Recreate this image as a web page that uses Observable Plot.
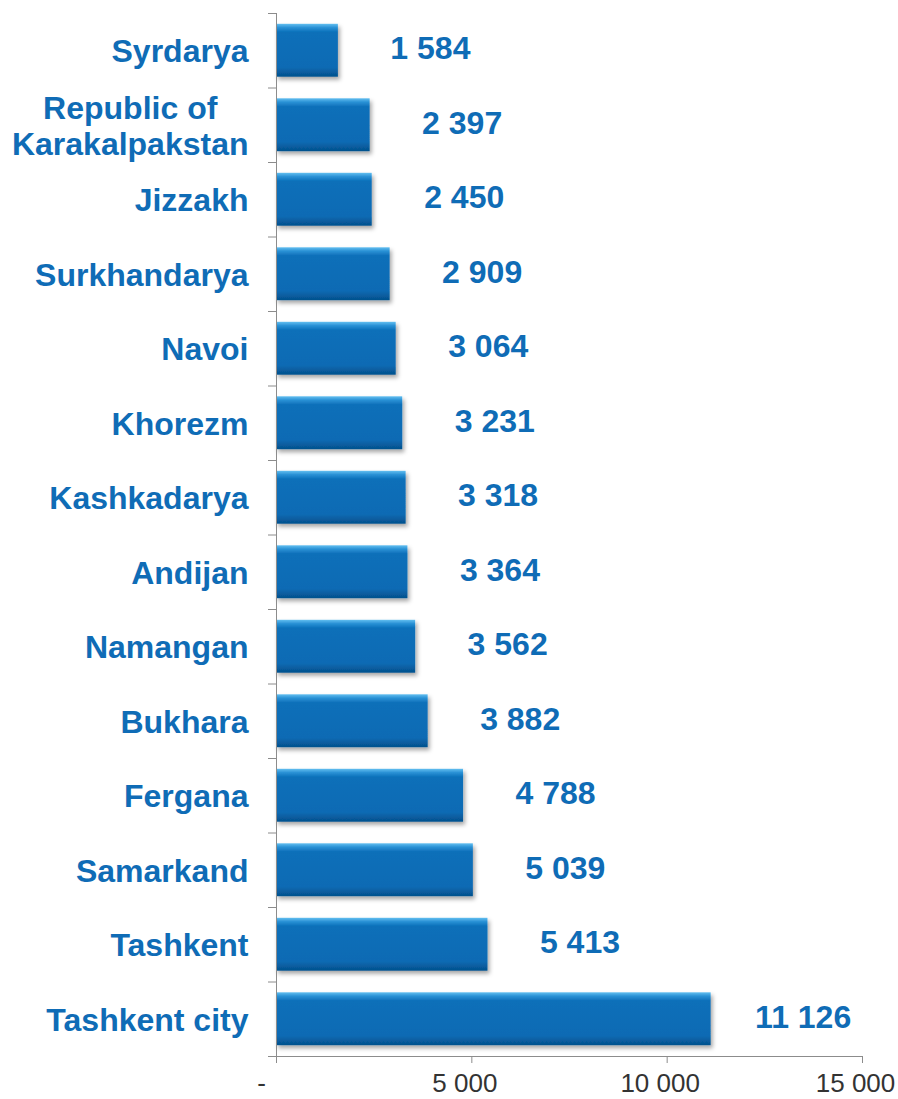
<!DOCTYPE html>
<html>
<head>
<meta charset="utf-8">
<script src="https://cdn.jsdelivr.net/npm/d3@7"></script>
<script src="https://cdn.jsdelivr.net/npm/@observablehq/plot@0.6"></script>
<style>
  html, body { margin: 0; padding: 0; background: #ffffff; }
</style>
</head>
<body>
<script>
const categories = ["Syrdarya", "Republic of\nKarakalpakstan", "Jizzakh", "Surkhandarya", "Navoi", "Khorezm", "Kashkadarya", "Andijan", "Namangan", "Bukhara", "Fergana", "Samarkand", "Tashkent", "Tashkent city"];
const values = [1584, 2397, 2450, 2909, 3064, 3231, 3318, 3364, 3562, 3882, 4788, 5039, 5413, 11126];
const xTicks = [0, 5000, 10000, 15000];

const data = categories.map((c, i) => ({region: c, value: values[i]}));

const W = 898, H = 1099, mt = 13, mb = 43, ml = 276, mr = 36;
const step = (H - mt - mb) / categories.length;
const blue = "#0f6cb6";
const gray = "#8c8c8c";
const fmt = v => d3.format(",")(v).replace(/,/g, " ");

const chart = Plot.plot({
  width: W, height: H,
  marginLeft: ml, marginRight: mr, marginTop: mt, marginBottom: mb,
  style: {fontFamily: "'Liberation Sans', Arial, sans-serif", background: "white", overflow: "visible"},
  x: {domain: [0, 15000]},
  y: {domain: categories, paddingInner: 0.29, paddingOuter: 0.145, round: false},
  marks: [
    Plot.barX(data, {x: "value", y: "region", fill: "url(#barGrad)"}),
    Plot.text(data, {x: "value", y: "region", text: d => fmt(d.value), dx: 92, dy: -2, textAnchor: "middle",
      fontSize: 32, fontWeight: "bold", fill: blue}),
    Plot.axisY({tickSize: 8, text: null, stroke: gray, dy: -step / 2, label: null}),
    Plot.axisY({tickSize: 0, tickPadding: 28, fontSize: 32, fontWeight: "bold", color: blue, lineHeight: 1.12, label: null}),
    Plot.axisX({ticks: xTicks, tickSize: 7, tickPadding: 10, fontSize: 26, stroke: gray, fill: "#333333",
      tickFormat: d => d === 0 ? "-" : fmt(d), label: null}),
    Plot.frame({anchor: "left", stroke: gray}),
    Plot.frame({anchor: "bottom", stroke: gray, insetLeft: -8})
  ]
});

document.body.append(chart);

const svg = d3.select(chart);
const defs = svg.insert("defs", ":first-child");
const g = defs.append("linearGradient").attr("id", "barGrad")
  .attr("x1", 0).attr("y1", 0).attr("x2", 0).attr("y2", 1);
[["0%", "#63bff0"], ["7%", "#2b92d6"], ["16%", "#0b6fb9"], ["82%", "#0a6bb4"], ["100%", "#05508c"]]
  .forEach(([o, c]) => g.append("stop").attr("offset", o).attr("stop-color", c));
const f = defs.append("filter").attr("id", "shadow").attr("x", "-10%").attr("y", "-20%").attr("width", "130%").attr("height", "160%");
f.append("feDropShadow").attr("dx", 2).attr("dy", 3).attr("stdDeviation", 2).attr("flood-color", "#000").attr("flood-opacity", 0.35);
svg.selectAll("g[aria-label='bar']").attr("filter", "url(#shadow)");

// x tick labels sit slightly left of their ticks in the original
svg.selectAll("g[aria-label='x-axis tick label'] text").each(function() {
  const t = this.textContent;
  const shift = t === "-" ? -15 : -7;
  const tr = this.getAttribute("transform") || "";
  this.setAttribute("transform", tr + ` translate(${shift},0)`);
});

// center multi-line category labels like the original
svg.selectAll("g[aria-label='y-axis tick label'] text").each(function() {
  const tspans = Array.from(this.querySelectorAll("tspan"));
  if (tspans.length > 1) {
    const widths = tspans.map(t => t.getComputedTextLength());
    const maxW = Math.max(...widths);
    tspans.forEach((t, i) => t.setAttribute("x", -(maxW - widths[i]) / 2));
  }
});
</script>
</body>
</html>
